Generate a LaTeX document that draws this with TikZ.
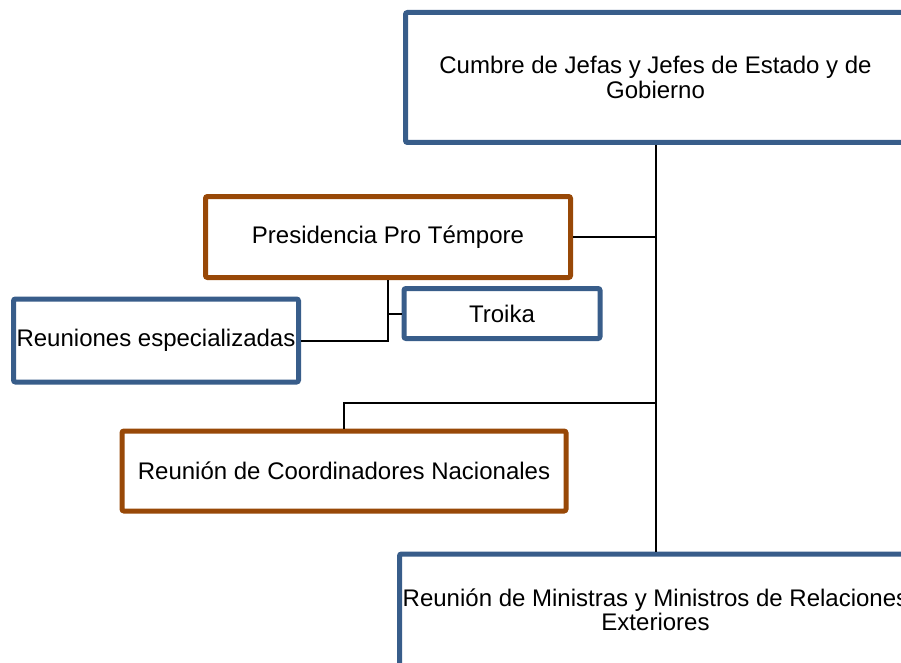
\documentclass[tikz,border=0pt]{standalone}
\usepackage{fontspec}
\setmainfont{Liberation Sans}
\definecolor{boxblue}{RGB}{56,93,138}
\definecolor{boxbrown}{RGB}{152,72,7}
\begin{document}
\begin{tikzpicture}[x=1pt,y=-1pt,
  box/.style={draw, line width=5pt, fill=white, rounded corners=2pt, inner sep=0pt,
    align=center, font=\fontsize{24}{24.5}\selectfont},
  bluebox/.style={box, draw=boxblue},
  brownbox/.style={box, draw=boxbrown},
  link/.style={line width=2pt, draw=black}]
\clip (0,0) rectangle (901,663);
\fill[white] (0,0) rectangle (901,663);

\node[bluebox, minimum width=500pt, minimum height=130pt] (cumbre) at (655.5,77.5)
  {Cumbre de Jefas y Jefes de Estado y de\\Gobierno};
\node[brownbox, minimum width=365pt, minimum height=81pt] (pres) at (388,237)
  {Presidencia Pro Témpore};
\node[bluebox, minimum width=196pt, minimum height=50pt] (troika) at (502,313.5)
  {Troika};
\node[bluebox, minimum width=285pt, minimum height=83pt] (reun) at (156,340.5)
  {Reuniones especializadas};
\node[brownbox, minimum width=444pt, minimum height=80pt] (coord) at (344,471)
  {Reunión de Coordinadores Nacionales};
\node[bluebox, minimum width=512pt, minimum height=112pt] (minis) at (655.5,610)
  {Reunión de Ministras y Ministros de Relaciones\\Exteriores};

\coordinate (jc) at (655.5,403);
\draw[link] (cumbre.south) -- (minis.north);
\draw[link] (pres.east) -- (pres.east -| cumbre.south);
\draw[link] (jc) -| (coord.north);
\draw[link] (pres.south) |- (reun.east);
\draw[link] (pres.south |- troika.west) -- (troika.west);
\end{tikzpicture}
\end{document}
